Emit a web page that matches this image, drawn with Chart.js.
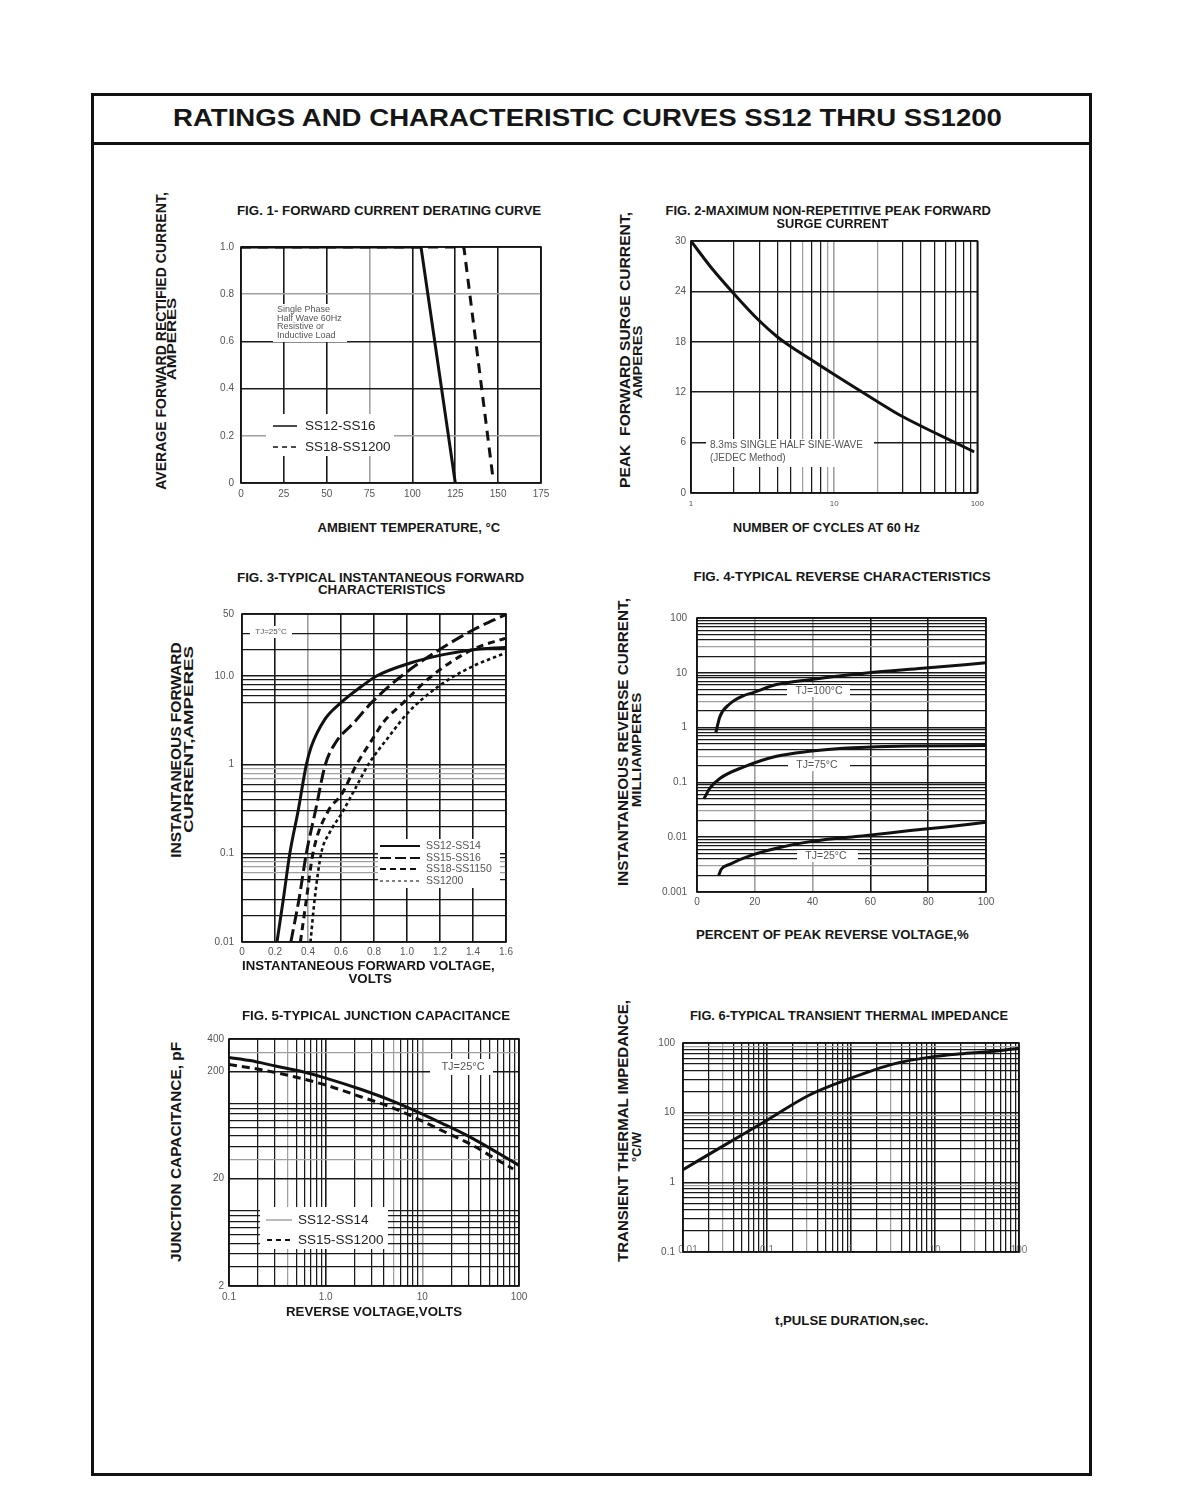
<!DOCTYPE html>
<html>
<head>
<meta charset="utf-8">
<title>SS12 thru SS1200 - ratings and characteristic curves</title>
<script src="https://cdn.jsdelivr.net/npm/chart.js@4.4.1/dist/chart.umd.min.js"></script>
<style>
  html, body { margin: 0; padding: 0; background: #fff; }
  body { position: relative; width: 1200px; height: 1500px; overflow: hidden; font-family: "Liberation Sans", Arial, sans-serif; }
  #page { position: absolute; left: 91px; top: 93px; width: 995px; height: 1377px; border: 3px solid #111; }
  #rule { position: absolute; left: 91px; top: 142px; width: 1000px; height: 3px; background: #111; }
  canvas { position: absolute; }
  .lbl { position: absolute; white-space: pre; font-weight: bold; color: #161616; line-height: 1; transform-origin: 50% 50%; }
</style>
</head>
<body>
<div id="page"></div>
<div id="rule"></div>
<canvas id="fig1"></canvas>
<canvas id="fig2"></canvas>
<canvas id="fig3"></canvas>
<canvas id="fig4"></canvas>
<canvas id="fig5"></canvas>
<canvas id="fig6"></canvas>
<script>
// ---- data ----

// FIG. 1 forward current derating
const f1TempA = [0, 105, 125];
const f1CurA = [1.0, 1.0, 0];
const f1TempB = [0, 130, 147];
const f1CurB = [1.0, 1.0, 0.02];
const f1XTicks = [0, 25, 50, 75, 100, 125, 150, 175];
const f1XText = ['0', '25', '50', '75', '100', '125', '150', '175'];
const f1YTicks = [0, 0.2, 0.4, 0.6, 0.8, 1.0];
const f1YText = ['0', '0.2', '0.4', '0.6', '0.8', '1.0'];

// FIG. 2 peak forward surge current
const f2Cycles = [1, 1.36, 2, 3, 4, 5, 7, 10, 20, 30, 50, 70, 95];
const f2Surge = [30, 27.0, 23.7, 20.5, 18.6, 17.4, 15.8, 14.1, 10.9, 9.1, 7.2, 6.0, 4.9];
const f2XTicks = [1, 10, 100];
const f2XText = ['1', '10', '100'];
const f2YTicks = [0, 6, 12, 18, 24, 30];
const f2YText = ['0', '6', '12', '18', '24', '30'];

// FIG. 3 forward characteristics (volts, amperes)
const f3VoltA = [0.212, 0.25, 0.29, 0.34, 0.39, 0.42, 0.50, 0.60, 0.715, 0.816, 1.02, 1.22, 1.40, 1.595];
const f3CurA = [0.01, 0.03, 0.1, 0.3, 1.0, 1.6, 3.2, 5.0, 7.4, 10, 14, 17.4, 19.8, 21];
const f3VoltB = [0.296, 0.345, 0.39, 0.445, 0.505, 0.57, 0.68, 0.785, 0.967, 1.20, 1.40, 1.595];
const f3CurB = [0.01, 0.03, 0.1, 0.3, 1.0, 1.8, 3.0, 5.0, 10, 20, 33, 49];
const f3VoltC = [0.354, 0.39, 0.43, 0.522, 0.603, 0.694, 0.806, 0.856, 0.978, 1.15, 1.40, 1.595];
const f3CurC = [0.01, 0.03, 0.1, 0.3, 0.46, 1.0, 2.15, 3.0, 5.0, 10, 20, 26.6];
const f3VoltD = [0.415, 0.44, 0.48, 0.53, 0.603, 0.70, 0.765, 0.897, 1.008, 1.21, 1.40, 1.595];
const f3CurD = [0.01, 0.03, 0.1, 0.17, 0.28, 0.6, 1.0, 2.15, 3.9, 8.1, 12.9, 18.1];
const f3XTicks = [0, 0.2, 0.4, 0.6, 0.8, 1.0, 1.2, 1.4, 1.6];
const f3XText = ['0', '0.2', '0.4', '0.6', '0.8', '1.0', '1.2', '1.4', '1.6'];
const f3YTicks = [0.01, 0.1, 1, 10, 50];
const f3YText = ['0.01', '0.1', '1', '10.0', '50'];

// FIG. 4 reverse characteristics (% of peak reverse voltage, mA)
const f4PctHot = [6.5, 7.9, 11.3, 16, 19.4, 27.5, 39, 58.7, 78, 100];
const f4CurHot = [0.8, 1.57, 2.7, 3.8, 4.35, 6.1, 7.5, 9.9, 12.1, 15.2];
const f4PctWarm = [2.4, 4.4, 7.9, 16, 27.5, 39, 50.6, 58.7, 73.8, 100];
const f4CurWarm = [0.05, 0.078, 0.118, 0.19, 0.30, 0.37, 0.42, 0.44, 0.46, 0.47];
const f4PctRoom = [7.5, 8.4, 11.3, 19.4, 27.5, 39, 50.6, 58.7, 73.8, 85.3, 100];
const f4CurRoom = [0.002, 0.0026, 0.0032, 0.0048, 0.0063, 0.0083, 0.0098, 0.0108, 0.0132, 0.0152, 0.0187];
const f4XTicks = [0, 20, 40, 60, 80, 100];
const f4XText = ['0', '20', '40', '60', '80', '100'];
const f4YTicks = [0.001, 0.01, 0.1, 1, 10, 100];
const f4YText = ['0.001', '0.01', '0.1', '1', '10', '100'];

// FIG. 5 junction capacitance (volts, pF)
const f5VoltA = [0.1, 0.165, 0.31, 0.54, 1.0, 2.3, 5.0, 10, 16, 33, 54, 100];
const f5CapA = [269, 252, 223, 201, 173, 136, 105, 80, 65.6, 47.5, 36.9, 26.6];
const f5VoltB = [0.1, 0.21, 0.46, 1.0, 2.3, 5.0, 11, 16, 33, 54, 87];
const f5CapB = [231, 208, 179, 149, 116, 91, 66, 56, 41, 31.5, 24.6];
const f5XTicks = [0.1, 1, 10, 100];
const f5XText = ['0.1', '1.0', '10', '100'];
const f5YTicks = [2, 20, 200, 400];
const f5YText = ['2', '20', '200', '400'];

// FIG. 6 transient thermal impedance (seconds, degC/W)
const f6Time = [0.01, 0.0316, 0.1, 0.316, 1, 3.16, 10, 20, 50, 100];
const f6Imp = [1.52, 3.45, 7.8, 17.8, 31.3, 49.8, 64.3, 70, 76, 84];
const f6XTicks = [0.01, 0.1, 1, 10, 100];
const f6XText = ['0.01', '0.1', '1', '10', '100'];
const f6YTicks = [0.1, 1, 10, 100];
const f6YText = ['0.1', '1', '10', '100'];

// ---- helpers ----
const FONT = '"Liberation Sans", Arial, sans-serif';
const near = (a, b) => Math.abs(a - b) <= Math.abs(b) * 1e-6 + 1e-12;

function logTicks(min, max) {
  const out = [];
  for (let e = Math.floor(Math.log10(min)); e <= Math.ceil(Math.log10(max)); e++) {
    for (let k = 1; k <= 9; k++) {
      const v = parseFloat((k * Math.pow(10, e)).toPrecision(6));
      if (v >= min * 0.9999 && v <= max * 1.0001) out.push(v);
    }
  }
  return out;
}

function axis(o) {
  return {
    type: o.type, min: o.min, max: o.max, position: o.pos,
    afterBuildTicks: s => { s.ticks = o.grid.map(v => ({ value: v })); },
    afterFit: s => { if (o.pos === 'bottom') s.height = o.size; else s.width = o.size; },
    ticks: {
      display: o.show !== false,
      autoSkip: false, maxRotation: 0, minRotation: 0,
      padding: o.pad, color: '#555',
      font: { family: FONT, size: o.font || 10 },
      callback: v => { const i = o.at.findIndex(t => near(t, v)); return i < 0 ? '' : o.text[i]; }
    },
    grid: {
      drawTicks: false,
      color: c => (o.gray || []).some(t => near(t, c.tick.value)) ? '#a0a0a0' : '#1a1a1a',
      lineWidth: c => o.at.some(t => near(t, c.tick.value)) ? 1.6 : 1.25
    },
    border: { display: false }
  };
}

function curve(xs, ys, dash, lw, smooth) {
  return {
    data: xs.map((x, i) => ({ x, y: ys[i] })),
    showLine: true, borderColor: '#111', borderWidth: lw || 3, borderDash: dash || [],
    pointRadius: 0, fill: false,
    cubicInterpolationMode: smooth === false ? 'default' : 'monotone',
    tension: smooth === false ? 0 : 0.4
  };
}

// page-coordinate overlay: white boxes, legend samples, notes
function overlay(g, items) {
  const ox = g.x - g.yw, oy = g.y - g.padT;
  return {
    id: 'overlay',
    beforeDatasetsDraw(chart) {
      const ctx = chart.ctx;
      ctx.save();
      items.forEach(it => {
        if (it.rect) {
          ctx.fillStyle = '#fff';
          ctx.fillRect(it.rect[0] - ox, it.rect[1] - oy, it.rect[2], it.rect[3]);
        }
        if (it.seg) {
          ctx.beginPath();
          ctx.setLineDash(it.dash || []);
          ctx.lineWidth = it.lw || 1.5;
          ctx.strokeStyle = it.color || '#111';
          ctx.moveTo(it.seg[0] - ox, it.seg[1] - oy);
          ctx.lineTo(it.seg[2] - ox, it.seg[3] - oy);
          ctx.stroke();
          ctx.setLineDash([]);
        }
        if (it.text) {
          ctx.fillStyle = it.color || '#555';
          ctx.font = (it.size || 10) + 'px ' + FONT;
          ctx.textAlign = it.align || 'left';
          ctx.textBaseline = 'middle';
          ctx.fillText(it.text, it.x - ox, it.y - oy);
        }
        if (it.xlabels) {
          const sc = chart.scales.x, L = it.xlabels;
          ctx.fillStyle = '#777';
          ctx.font = '10px ' + FONT;
          ctx.textAlign = 'center';
          ctx.textBaseline = 'middle';
          L.vals.forEach((v, i) => {
            const px = Math.max(sc.getPixelForValue(v), chart.chartArea.left + 5);
            ctx.fillText(L.text[i], px, L.y - oy);
          });
        }
      });
      ctx.restore();
    },
    afterDatasetsDraw(chart) {
      const a = chart.chartArea, ctx = chart.ctx;
      ctx.save();
      ctx.strokeStyle = '#111';
      ctx.lineWidth = 1.6;
      ctx.strokeRect(a.left, a.top, a.right - a.left, a.bottom - a.top);
      ctx.restore();
    }
  };
}

function build(id, g, datasets, xAxis, yAxis, items) {
  const cv = document.getElementById(id);
  const w = g.w + g.yw + g.padR, h = g.padT + g.h + g.xh;
  cv.width = w; cv.height = h;
  cv.style.left = (g.x - g.yw) + 'px';
  cv.style.top = (g.y - g.padT) + 'px';
  cv.style.width = w + 'px';
  cv.style.height = h + 'px';
  return new Chart(cv, {
    type: 'scatter',
    data: { datasets },
    options: {
      responsive: false, animation: false, events: [],
      layout: { padding: { left: 0, top: g.padT, right: g.padR, bottom: 0 } },
      plugins: { legend: { display: false }, tooltip: { enabled: false } },
      scales: { x: xAxis, y: yAxis }
    },
    plugins: [overlay(g, items || [])]
  });
}

// ---- FIG. 1 ----
build('fig1', { x: 241, y: 242, w: 300, h: 241, yw: 34, xh: 22, padT: 8, padR: 14 },
  [curve(f1TempA, f1CurA, [], 3, false), curve(f1TempB, f1CurB, [10, 7], 3, false)],
  axis({ type: 'linear', pos: 'bottom', min: 0, max: 175, grid: f1XTicks, at: f1XTicks, text: f1XText, gray: [75], size: 22, pad: 5 }),
  axis({ type: 'linear', pos: 'left', min: 0, max: 1, grid: f1YTicks, at: f1YTicks, text: f1YText, gray: [0.2, 0.8], size: 34, pad: 7 }),
  [
    { rect: [273, 304, 74, 38] },
    { text: 'Single Phase', x: 277, y: 310, size: 9 },
    { text: 'Half Wave 60Hz', x: 277, y: 318.5, size: 9 },
    { text: 'Resistive or', x: 277, y: 327, size: 9 },
    { text: 'Inductive Load', x: 277, y: 336, size: 9 },
    { rect: [266, 414, 128, 42] },
    { seg: [273, 426, 297, 426], lw: 1.5 },
    { seg: [273, 447, 297, 447], lw: 1.5, dash: [5, 4] },
    { text: 'SS12-SS16', x: 305, y: 426, size: 13.5, color: '#222' },
    { text: 'SS18-SS1200', x: 305, y: 447, size: 13.5, color: '#222' }
  ]);

// ---- FIG. 2 ----
build('fig2', { x: 691, y: 238, w: 287, h: 255, yw: 30, xh: 22, padT: 8, padR: 12 },
  [curve(f2Cycles, f2Surge, [], 3)],
  axis({ type: 'logarithmic', pos: 'bottom', min: 1, max: 100, grid: logTicks(1, 100), at: f2XTicks, text: f2XText, gray: [6, 9, 10, 20], size: 22, pad: 6, font: 8 }),
  axis({ type: 'linear', pos: 'left', min: 0, max: 30, grid: f2YTicks, at: f2YTicks, text: f2YText, size: 30, pad: 5 }),
  [
    { rect: [706, 439, 168, 28] },
    { text: '8.3ms SINGLE HALF SINE-WAVE', x: 710, y: 445, size: 10 },
    { text: '(JEDEC Method)', x: 710, y: 458, size: 10 }
  ]);

// ---- FIG. 3 ----
const f3Grid = [0.01, 0.02, 0.03, 0.05, 0.06, 0.07, 0.08, 0.09, 0.1, 0.2, 0.3, 0.4, 0.5, 0.6, 0.7, 0.8, 0.9, 1, 5, 6, 7, 8, 9, 10, 20, 30, 50];
build('fig3', { x: 242, y: 608, w: 264, h: 334, yw: 34, xh: 22, padT: 8, padR: 14 },
  [
    curve(f3VoltA, f3CurA, [], 3),
    curve(f3VoltB, f3CurB, [13, 5], 3),
    curve(f3VoltC, f3CurC, [7, 5], 3),
    curve(f3VoltD, f3CurD, [3.5, 3], 2.6)
  ],
  axis({ type: 'linear', pos: 'bottom', min: 0, max: 1.6, grid: f3XTicks, at: f3XTicks, text: f3XText, gray: [0.4], size: 22, pad: 4 }),
  axis({ type: 'logarithmic', pos: 'left', min: 0.01, max: 50, grid: f3Grid, at: f3YTicks, text: f3YText, gray: [0.06, 0.07, 0.08, 0.7, 0.8, 0.9], size: 34, pad: 8 }),
  [
    { rect: [250, 626, 42, 12] },
    { text: 'TJ=25°C', x: 271, y: 632, size: 8, align: 'center' },
    { rect: [378, 839, 122, 49] },
    { seg: [380, 846, 420, 846], lw: 2 },
    { seg: [380, 858, 420, 858], lw: 2, dash: [11, 4] },
    { seg: [380, 869, 420, 869], lw: 2, dash: [6, 4] },
    { seg: [380, 881, 420, 881], lw: 1.5, dash: [3, 3], color: '#555' },
    { text: 'SS12-SS14', x: 426, y: 846, size: 10.5 },
    { text: 'SS15-SS16', x: 426, y: 858, size: 10.5 },
    { text: 'SS18-SS1150', x: 426, y: 869, size: 10.5 },
    { text: 'SS1200', x: 426, y: 881, size: 10.5 }
  ]);

// ---- FIG. 4 ----
build('fig4', { x: 697, y: 610, w: 289, h: 282, yw: 44, xh: 22, padT: 8, padR: 14 },
  [
    curve(f4PctHot, f4CurHot, [], 3),
    curve(f4PctWarm, f4CurWarm, [], 3),
    curve(f4PctRoom, f4CurRoom, [], 3)
  ],
  axis({ type: 'linear', pos: 'bottom', min: 0, max: 100, grid: f4XTicks, at: f4XTicks, text: f4XText, gray: [20, 40], size: 22, pad: 4 }),
  axis({ type: 'logarithmic', pos: 'left', min: 0.001, max: 100, grid: logTicks(0.001, 100), at: f4YTicks, text: f4YText, gray: [0.003, 0.03, 0.3, 3, 30], size: 44, pad: 10 }),
  [
    { rect: [787, 685, 63, 12] },
    { text: 'TJ=100°C', x: 819, y: 691, size: 10.5, align: 'center' },
    { rect: [788, 759, 62, 12] },
    { text: 'TJ=75°C', x: 817, y: 765, size: 10.5, align: 'center' },
    { rect: [797, 850, 61, 12] },
    { text: 'TJ=25°C', x: 826, y: 856, size: 10.5, align: 'center' }
  ]);

// ---- FIG. 5 ----
build('fig5', { x: 229, y: 1036, w: 290, h: 250, yw: 30, xh: 22, padT: 8, padR: 14 },
  [curve(f5VoltA, f5CapA, [], 3), curve(f5VoltB, f5CapB, [8, 5], 3)],
  axis({ type: 'logarithmic', pos: 'bottom', min: 0.1, max: 100, grid: logTicks(0.1, 100), at: f5XTicks, text: f5XText, gray: [0.4, 5, 10], size: 22, pad: 5 }),
  axis({ type: 'logarithmic', pos: 'left', min: 2, max: 400, grid: logTicks(2, 400), at: f5YTicks, text: f5YText, gray: [30, 300], size: 30, pad: 5 }),
  [
    { rect: [430, 1059, 63, 16] },
    { text: 'TJ=25°C', x: 463, y: 1067, size: 11, align: 'center' },
    { rect: [260, 1207, 128, 42] },
    { seg: [266, 1220, 292, 1220], lw: 1, color: '#777' },
    { seg: [267, 1240, 292, 1240], lw: 2, dash: [5, 4] },
    { text: 'SS12-SS14', x: 298, y: 1220, size: 13.5, color: '#222' },
    { text: 'SS15-SS1200', x: 298, y: 1240, size: 13.5, color: '#222' }
  ]);

// ---- FIG. 6 ----
build('fig6', { x: 683, y: 1037, w: 336, h: 225, yw: 30, xh: 4, padT: 8, padR: 14 },
  [curve(f6Time, f6Imp, [], 3)],
  axis({ type: 'logarithmic', pos: 'bottom', min: 0.01, max: 100, grid: logTicks(0.01, 100), at: f6XTicks, text: f6XText, gray: [0.03, 0.3, 3, 30], size: 4, pad: 0, show: false }),
  axis({ type: 'logarithmic', pos: 'left', min: 0.1, max: 100, grid: logTicks(0.1, 100), at: f6YTicks, text: f6YText, gray: [0.9, 9, 90], size: 30, pad: 8 }),
  [{ xlabels: { vals: f6XTicks, text: f6XText, y: 1250 } }]);

// ---- titles and axis captions (real text, fitted to the sheet) ----
const captions = [
  ['RATINGS AND CHARACTERISTIC CURVES SS12 THRU SS1200', 587, 118.5, 23, 829, 0],
  ['FIG. 1- FORWARD CURRENT DERATING CURVE', 389, 211, 12.5, 304, 0],
  ['AMBIENT TEMPERATURE, °C', 408.5, 528, 12.5, 183, 0],
  ['AVERAGE FORWARD RECTIFIED CURRENT,', 161, 341, 14, 298, 1],
  ['AMPERES', 171.5, 339, 12, 82, 1],
  ['FIG. 2-MAXIMUM NON-REPETITIVE PEAK FORWARD', 827.5, 211.5, 12.5, 325, 0],
  ['SURGE CURRENT', 832, 224.5, 12.5, 112, 0],
  ['NUMBER OF CYCLES AT 60 Hz', 826, 528, 12.5, 187, 0],
  ['PEAK  FORWARD SURGE CURRENT,', 624, 350, 14, 276, 1],
  ['AMPERES', 637, 362, 12, 72, 1],
  ['FIG. 3-TYPICAL INSTANTANEOUS FORWARD', 380.5, 578, 12.5, 287, 0],
  ['CHARACTERISTICS', 381.5, 590, 12.5, 127, 0],
  ['INSTANTANEOUS FORWARD VOLTAGE,', 368.5, 965, 13, 253, 0],
  ['VOLTS', 370, 978.5, 13, 43, 0],
  ['INSTANTANEOUS FORWARD', 176, 750, 14, 215, 1],
  ['CURRENT,AMPERES', 188, 739, 13, 187, 1],
  ['FIG. 4-TYPICAL REVERSE CHARACTERISTICS', 841.5, 577.5, 12.5, 297, 0],
  ['PERCENT OF PEAK REVERSE VOLTAGE,%', 832.5, 935, 12.5, 273, 0],
  ['INSTANTANEOUS REVERSE CURRENT,', 623, 742, 14, 288, 1],
  ['MILLIAMPERES', 637, 750, 12, 115, 1],
  ['FIG. 5-TYPICAL JUNCTION CAPACITANCE', 376, 1016.5, 12.5, 268, 0],
  ['REVERSE VOLTAGE,VOLTS', 374, 1312, 12.5, 176, 0],
  ['JUNCTION CAPACITANCE, pF', 176, 1152, 14, 220, 1],
  ['FIG. 6-TYPICAL TRANSIENT THERMAL IMPEDANCE', 849, 1016.5, 12.5, 318, 0],
  ['t,PULSE DURATION,sec.', 851.5, 1320, 13, 153, 0],
  ['TRANSIENT THERMAL IMPEDANCE,', 623, 1131, 14, 262, 1],
  ['°C/W', 637, 1147, 12, 30, 1]
];

captions.forEach(([text, cx, cy, size, len, rot]) => {
  const d = document.createElement('div');
  d.className = 'lbl';
  d.textContent = text;
  d.style.fontSize = size + 'px';
  document.body.appendChild(d);
  const w = d.offsetWidth, h = d.offsetHeight;
  d.style.left = (cx - w / 2) + 'px';
  d.style.top = (cy - h / 2) + 'px';
  d.style.transform = (rot ? 'rotate(-90deg) ' : '') + 'scaleX(' + (len / w).toFixed(4) + ')';
});
</script>
</body>
</html>
